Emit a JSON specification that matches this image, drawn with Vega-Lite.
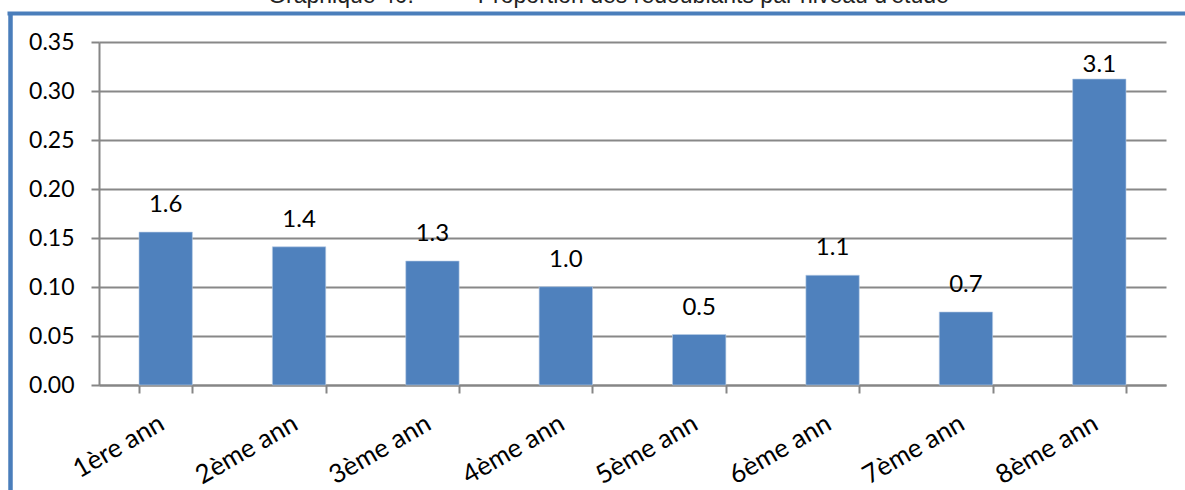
{
  "$schema": "https://vega.github.io/schema/vega-lite/v6.json",
  "width": 1067,
  "height": 343,
  "autosize": {"type": "none"},
  "padding": {"left": 99, "top": 42, "right": 19, "bottom": 105},
  "background": "white",
  "title": {
    "text": "Graphique 40:\u00a0\u00a0\u00a0\u00a0\u00a0\u00a0\u00a0\u00a0\u00a0\u00a0Proportion des redoublants par niveau d'étude",
    "font": "Liberation Sans",
    "fontSize": 23,
    "fontWeight": "normal",
    "color": "#222222",
    "anchor": "middle",
    "frame": "group",
    "dx": -24,
    "baseline": "alphabetic",
    "offset": -13
  },
  "config": {"view": {"stroke": null}},
  "data": {
    "values": [
      {"niveau": "1ère ann", "valeur": 0.156, "label": "1.6"},
      {"niveau": "2ème ann", "valeur": 0.141, "label": "1.4"},
      {"niveau": "3ème ann", "valeur": 0.1265, "label": "1.3"},
      {"niveau": "4ème ann", "valeur": 0.1003, "label": "1.0"},
      {"niveau": "5ème ann", "valeur": 0.0515, "label": "0.5"},
      {"niveau": "6ème ann", "valeur": 0.112, "label": "1.1"},
      {"niveau": "7ème ann", "valeur": 0.0745, "label": "0.7"},
      {"niveau": "8ème ann", "valeur": 0.3122, "label": "3.1"}
    ]
  },
  "layer": [
    {
      "mark": {"type": "point", "opacity": 0},
      "encoding": {
        "x": {
          "field": "valeur", "type": "quantitative",
          "scale": {"domain": [0, 1], "range": [-92, 1120], "nice": false, "zero": false},
          "axis": {"orient": "top", "offset": 29, "domainColor": "#4a7ebb", "domainWidth": 4, "ticks": false, "labels": false, "grid": false, "title": null}
        },
        "y": {
          "field": "valeur", "type": "quantitative",
          "scale": {"domain": [0, 1], "range": [470, -29], "nice": false, "zero": false},
          "axis": {"orient": "left", "offset": 89, "domainColor": "#4a7ebb", "domainWidth": 4.5, "ticks": false, "labels": false, "grid": false, "title": null}
        }
      }
    },
    {
      "layer": [
        {
          "mark": {"type": "bar", "color": "#4F81BD", "stroke": "#b9cde5", "strokeWidth": 0.6},
          "encoding": {
            "x": {
              "field": "niveau", "type": "nominal", "sort": null,
              "scale": {"paddingInner": 0.6, "paddingOuter": 0.3},
              "axis": {
                "orient": "bottom", "title": null, "grid": false, "tickBand": "extent",
                "tickSize": 8, "tickColor": "#868686", "tickWidth": 2,
                "domainColor": "#868686", "domainWidth": 2,
                "labelAngle": -30, "labelAlign": "right", "labelBaseline": "alphabetic",
                "labelPadding": 35, "labelFont": "Lato", "labelFontSize": 26, "labelColor": "#000000"
              }
            },
            "y": {
              "field": "valeur", "type": "quantitative",
              "scale": {"domain": [0, 0.35], "nice": false},
              "axis": {
                "orient": "left", "title": null, "values": [0, 0.05, 0.1, 0.15, 0.2, 0.25, 0.3, 0.35], "format": ".2f",
                "grid": true, "gridColor": "#888888", "gridWidth": 2,
                "domainColor": "#868686", "domainWidth": 2,
                "tickSize": 8, "tickColor": "#868686", "tickWidth": 2,
                "labelPadding": 17, "labelFont": "Lato", "labelFontSize": 23, "labelColor": "#000000"
              }
            }
          }
        },
        {
          "transform": [{"filter": "datum.niveau != '8ème ann'"}],
          "mark": {"type": "text", "baseline": "alphabetic", "dy": -20, "font": "Lato", "fontSize": 24, "color": "#000000"},
          "encoding": {
            "x": {"field": "niveau", "type": "nominal", "sort": null},
            "y": {"field": "valeur", "type": "quantitative"},
            "text": {"field": "label", "type": "nominal"}
          }
        },
        {
          "transform": [{"filter": "datum.niveau == '8ème ann'"}],
          "mark": {"type": "text", "baseline": "alphabetic", "dy": -7, "font": "Lato", "fontSize": 24, "color": "#000000"},
          "encoding": {
            "x": {"field": "niveau", "type": "nominal", "sort": null},
            "y": {"field": "valeur", "type": "quantitative"},
            "text": {"field": "label", "type": "nominal"}
          }
        }
      ]
    }
  ],
  "resolve": {"scale": {"x": "independent", "y": "independent"}, "axis": {"x": "independent", "y": "independent"}}
}
